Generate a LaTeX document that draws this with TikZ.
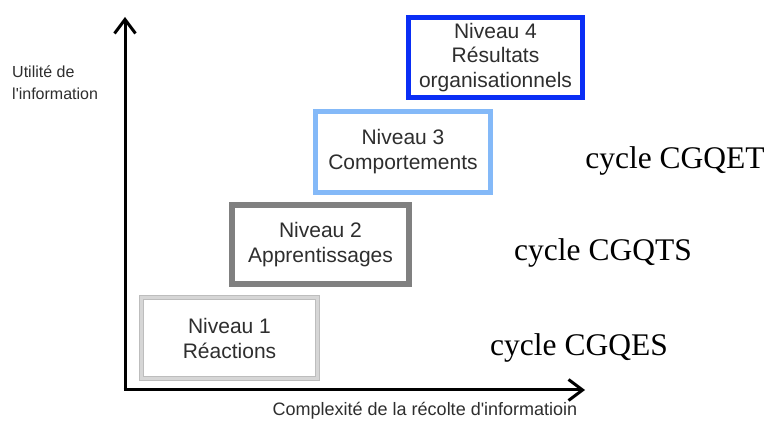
\documentclass[tikz,border=0pt]{standalone}
\usepackage{fontspec}
\setmainfont{Liberation Serif}
\setsansfont{Liberation Sans}
\usetikzlibrary{arrows.meta}
\definecolor{txtgray}{HTML}{2E2E2E}
\definecolor{lvlone}{HTML}{D6D6D6}
\definecolor{lvloneedge}{HTML}{BDBDBD}
\definecolor{lvltwo}{HTML}{808080}
\definecolor{lvlthree}{HTML}{84B9F8}
\definecolor{lvlfour}{HTML}{0A2EF5}
\tikzset{
  level/.style={rectangle, fill=white, align=center, inner sep=0pt,
    font=\sffamily\fontsize{21}{25}\selectfont, text=txtgray},
  axis/.style={line width=3pt, -{Straight Barb[length=14pt, width=21pt, line width=3pt]}},
  axislabel/.style={font=\sffamily\fontsize{16}{22}\selectfont, text=txtgray, inner sep=0pt},
  cycle/.style={font=\rmfamily\fontsize{31.5}{34}\selectfont, inner sep=0pt}
}
\begin{document}
\begin{tikzpicture}[x=1pt, y=-1pt]
  \useasboundingbox (0,0) rectangle (771,427);
  \fill[white] (0,0) rectangle (771,427);

  % axes
  \coordinate (origin) at (125,390);
  \coordinate (ytop) at (125,17);
  \coordinate (xend) at (585,390);
  \draw[axis] (origin) -- (ytop);
  \draw[axis] ([xshift=-1.5pt]origin) -- (xend);

  % axis labels
  \node[axislabel, align=left, anchor=north west] (ylab) at (12,66)
    {Utilité de\\l\textquotesingle information};
  \node[axislabel, font=\sffamily\fontsize{18}{22}\selectfont, anchor=center] (xlab) at (425,411)
    {Complexité de la récolte d\textquotesingle informatioin};

  % levels
  \node[level, minimum width=176pt, minimum height=81pt,
        draw=lvloneedge, double=lvlone, line width=1pt, double distance=3pt]
        (n1) at (229.5,338) {Niveau 1\\Réactions};
  \node[level, minimum width=177pt, minimum height=79pt,
        draw=lvltwo, line width=6pt]
        (n2) at (320.5,244.5) {Niveau 2\\Apprentissages};
  \node[level, minimum width=175pt, minimum height=81pt,
        draw=lvlthree, line width=5pt]
        (n3) at (403,152) {Niveau 3\\Comportements};
  \node[level, minimum width=174pt, minimum height=80pt,
        draw=lvlfour, line width=5pt, font=\sffamily\fontsize{21}{24.5}\selectfont]
        (n4) at (495.5,57.5) {Niveau 4\\Résultats\\organisationnels};

  % cycles
  \node[cycle] (c3) at (675,161) {cycle CGQET};
  \node[cycle] (c2) at (603,253) {cycle CGQTS};
  \node[cycle] (c1) at (579,348) {cycle CGQES};
\end{tikzpicture}
\end{document}
